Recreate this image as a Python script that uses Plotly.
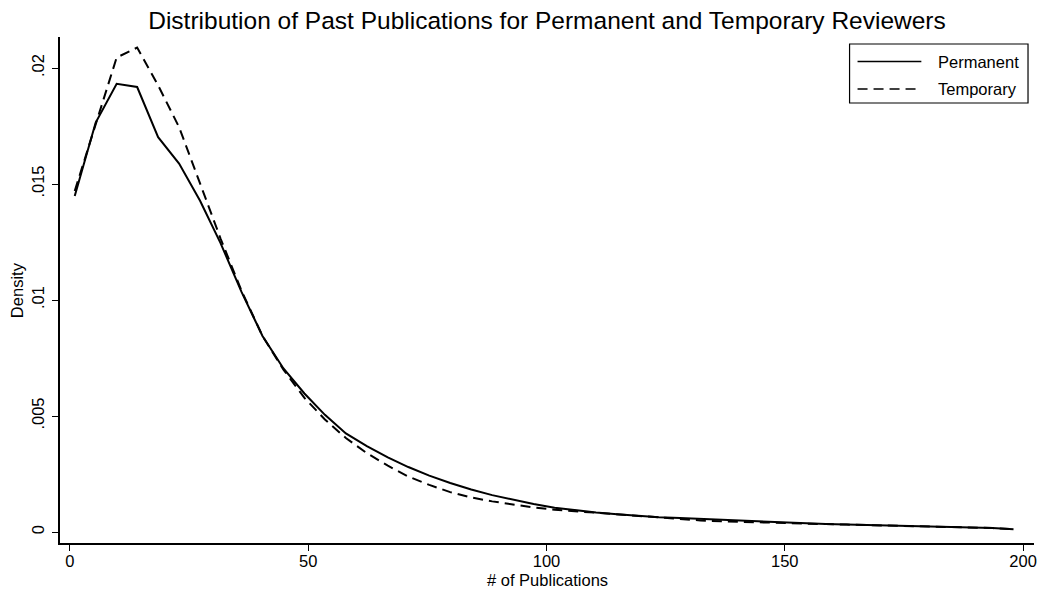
import plotly.graph_objects as go

# Kernel density estimates evaluated on a common grid of publication counts
publications = [1, 5.4, 9.8, 14.1, 18.5, 22.9, 27.3, 31.6, 36, 40.4, 44.8, 49.2,
                53.5, 57.9, 62.3, 66.7, 71, 75.4, 79.8, 84.2, 88.6, 92.9, 97.3,
                101.7, 106.1, 110.4, 114.8, 119.2, 123.6, 128, 132.3, 136.7, 141.1,
                145.5, 149.8, 154.2, 158.6, 163, 167.4, 171.7, 176.1, 180.5, 184.9,
                189.2, 193.6, 198]

density_permanent = [0.01448, 0.01765, 0.01932, 0.01918, 0.01702, 0.01588, 0.01428,
                     0.01245, 0.01035, 0.00845, 0.00705, 0.00597, 0.00505, 0.00425,
                     0.00370, 0.00322, 0.00280, 0.00243, 0.00211, 0.00183, 0.00159,
                     0.00139, 0.00121, 0.00105, 0.00093, 0.00084, 0.00077, 0.00070,
                     0.00064, 0.00060, 0.00056, 0.00052, 0.00048, 0.00044, 0.00040,
                     0.00037, 0.00034, 0.00032, 0.00030, 0.00028, 0.00027, 0.00026,
                     0.00024, 0.00021, 0.00017, 0.00012]

density_temporary = [0.01470, 0.01760, 0.02045, 0.02088, 0.01925, 0.01745, 0.01500,
                     0.01265, 0.01040, 0.00845, 0.00700, 0.00578, 0.00485, 0.00405,
                     0.00340, 0.00286, 0.00239, 0.00203, 0.00172, 0.00149, 0.00132,
                     0.00118, 0.00106, 0.00096, 0.00089, 0.00082, 0.00075, 0.00068,
                     0.00061, 0.00055, 0.00050, 0.00046, 0.00043, 0.00041, 0.00039,
                     0.00037, 0.00034, 0.00032, 0.00030, 0.00028, 0.00027, 0.00026,
                     0.00024, 0.00021, 0.00017, 0.00012]

x_ticks = [0, 50, 100, 150, 200]
x_tick_labels = ["0", "50", "100", "150", "200"]
y_ticks = [0, 0.005, 0.01, 0.015, 0.02]
y_tick_labels = ["0", ".005", ".01", ".015", ".02"]

series_names = ["Permanent", "Temporary"]

W, H = 1047, 592
ML, MR, MT, MB = 60, 10, 37, 49
PW, PH = W - ML - MR, H - MT - MB


def px_x(px):
    return (px - ML) / PW


def px_y(py):
    return (H - MB - py) / PH


FONT = "Liberation Sans, Arial, Helvetica, sans-serif"
DASH = "10px,6px"

fig = go.Figure()
fig.add_trace(go.Scatter(x=publications, y=density_permanent, mode="lines",
                         name=series_names[0],
                         line=dict(color="black", width=2)))
fig.add_trace(go.Scatter(x=publications, y=density_temporary, mode="lines",
                         name=series_names[1],
                         line=dict(color="black", width=2, dash=DASH)))

fig.update_layout(
    width=W, height=H,
    margin=dict(l=ML, r=MR, t=MT, b=MB),
    paper_bgcolor="white", plot_bgcolor="white",
    showlegend=False,
    font=dict(family=FONT, color="black"),
    title=dict(text="Distribution of Past Publications for Permanent and Temporary Reviewers",
               xref="paper", x=0.5, xanchor="center",
               yref="container", y=1 - 20 / H, yanchor="middle",
               font=dict(size=24.5, color="black")),
)

fig.update_xaxes(range=[-2.09, 202.3], showgrid=False, zeroline=False,
                 showline=True, linecolor="black", linewidth=1.5,
                 ticks="outside", ticklen=6, tickwidth=1.2, tickcolor="black",
                 tickvals=x_ticks, ticktext=x_tick_labels,
                 ticklabelstandoff=-4,
                 tickfont=dict(size=16.5))
fig.update_yaxes(range=[-0.000474, 0.021336], showgrid=False, zeroline=False,
                 showline=True, linecolor="black", linewidth=1.5,
                 ticks="outside", ticklen=6, tickwidth=1.2, tickcolor="black",
                 tickvals=y_ticks, ticktext=y_tick_labels, tickangle=-90,
                 ticklabelstandoff=2,
                 tickfont=dict(size=16.5))

# Axis titles
fig.add_annotation(text="# of Publications", xref="paper", yref="paper",
                   x=0.5, y=px_y(580), xanchor="center", yanchor="middle",
                   showarrow=False, font=dict(size=16.5))
fig.add_annotation(text="Density", xref="paper", yref="paper",
                   x=px_x(17), y=0.5, xanchor="center", yanchor="middle",
                   textangle=-90, showarrow=False, font=dict(size=16.5))

# Legend box drawn with shapes and annotations
fig.add_shape(type="rect", xref="paper", yref="paper",
              x0=px_x(852), x1=px_x(1031), y0=px_y(103), y1=px_y(44),
              line=dict(color="black", width=1.2), fillcolor="white")
for row_y, name, dash in [(61.5, series_names[0], "solid"), (89, series_names[1], DASH)]:
    fig.add_shape(type="line", xref="paper", yref="paper",
                  x0=px_x(860), x1=px_x(924), y0=px_y(row_y), y1=px_y(row_y),
                  line=dict(color="black", width=1.6, dash=dash))
    fig.add_annotation(text=name, xref="paper", yref="paper",
                       x=px_x(939), y=px_y(row_y), xanchor="left", yanchor="middle",
                       showarrow=False, font=dict(size=16.5))

fig.write_html("out.html")
